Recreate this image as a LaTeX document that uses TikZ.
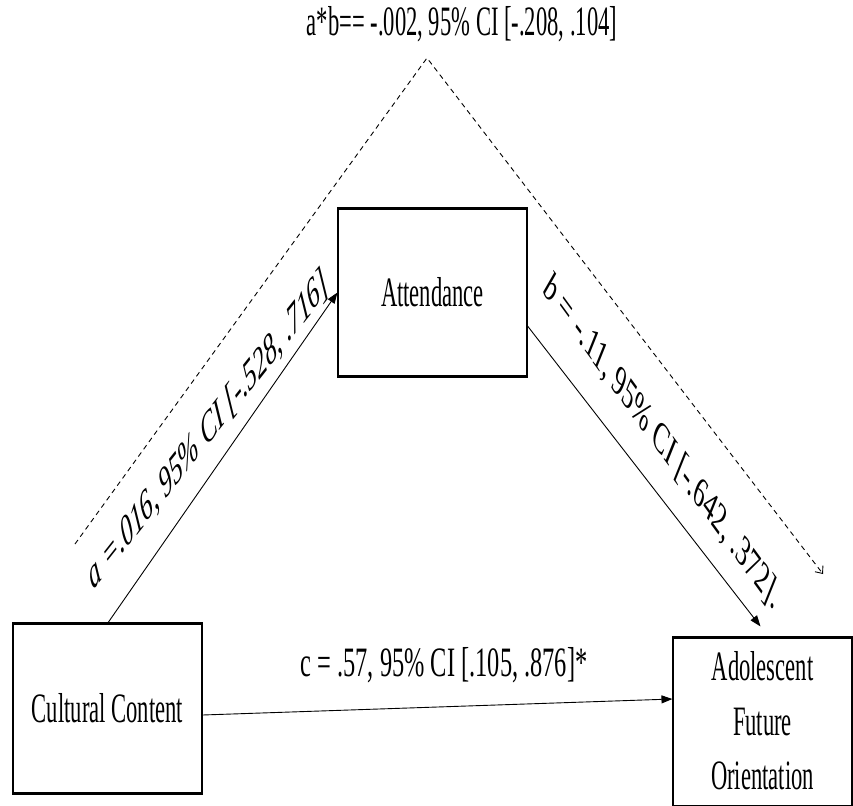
\documentclass[tikz,border=0pt]{standalone}
\usepackage{fontspec}
\setmainfont{Liberation Serif}
\newfontfamily\narrowserif[FakeStretch=0.54]{Liberation Serif}
\usetikzlibrary{arrows.meta,calc}
\begin{document}
\begin{tikzpicture}[x=1bp,y=-1bp,
  varbox/.style={draw, line width=1.1bp, inner sep=0pt, align=center,
    font=\narrowserif\fontsize{42}{55}\selectfont},
  edge/.style={line width=2.2bp},
  effect/.style={line width=0.9bp, -{Triangle[length=11bp,width=8bp]}},
  indirect/.style={line width=0.9bp, dash pattern=on 5bp off 4bp,
    -{Straight Barb[length=6bp,width=10bp]}},
  flatlabel/.style={font=\narrowserif\fontsize{42}{50}\selectfont, inner sep=0pt},
  slantlabel/.style={font=\fontsize{44}{50}\selectfont, inner sep=0pt, transform shape}
]
\useasboundingbox (0,0) rectangle (853,806);

% variables
\node[varbox, minimum width=189bp, minimum height=167bp] (att) at (432.5,292.5) {Attendance};
\node[varbox, minimum width=189bp, minimum height=169bp] (cc) at (107.5,708.5) {Cultural Content};
\node[varbox, minimum width=179bp, minimum height=168bp, text depth=3bp] (afo) at (762.5,722) {Adolescent\\Future\\Orientation};
\foreach \n in {att,cc,afo}{
  \draw[edge] (\n.north west) -- (\n.north east);
  \draw[edge] (\n.south west) -- (\n.south east);
}

% paths
\draw[effect] (cc.north) -- (att.west);
\draw[effect] ([yshift=-33.5bp]att.east) -- ([xshift=-2bp,yshift=11bp]afo.north);
\draw[effect] ([yshift=-6.5bp]cc.east) -- ([yshift=23bp]afo.west);

% indirect effect
\coordinate (dstart) at (75,544);
\coordinate (apex) at (427,58);
\coordinate (dend) at (823,574);
\draw[indirect] (dstart) -- (apex) -- (dend);

% labels
\node[flatlabel, anchor=base] (ablabel) at (462,36) {a*b== -.002, 95\% CI [-.208, .104]};
\node[flatlabel, anchor=base, xscale=1.08] (clabel) at (444,676) {c = .57, 95\% CI [.105, .876]*};
\begin{scope}[shift={(212,440)}, xscale=0.54]
  \node[slantlabel, anchor=base, rotate=34.4] (alabel) at (0,0) {\itshape a =.016, 95\% CI [-.528, .716]};
\end{scope}
\begin{scope}[shift={(662,442)}, xscale=0.54]
  \node[slantlabel, anchor=center, rotate=-36.6] (blabel) at (0,0) {\itshape b\upshape{} = -.11, 95\% CI [-.642, .372].};
\end{scope}
\end{tikzpicture}
\end{document}
